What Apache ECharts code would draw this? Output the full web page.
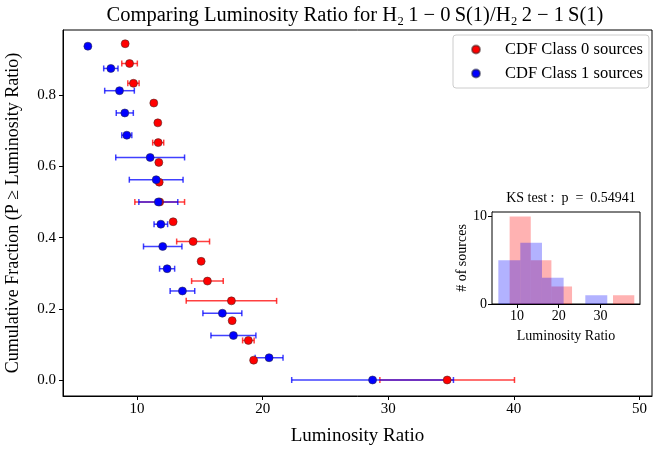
<!DOCTYPE html>
<html><head><meta charset="utf-8">
<script src="https://cdn.jsdelivr.net/npm/echarts@6/dist/echarts.min.js"></script>
<style>html,body{margin:0;padding:0;background:#fff}#c{width:655px;height:449px}</style>
</head><body><div id="c"></div>
<script>
// ---- data ----
const class0Ratio = [9.05, 9.40, 9.71, 11.33, 11.65, 11.68, 11.73, 11.76, 11.80, 12.87, 14.46, 15.10, 15.60, 17.51, 17.57, 18.86, 19.28, 34.69];
const class0Err   = [0.10, 0.62, 0.45, 0.05, 0.05, 0.44, 0.05, 0.05, 1.98, 0.10, 1.31, 0.05, 1.26, 3.60, 0.09, 0.46, 0.10, 5.36];
const class0Frac  = [0.9444, 0.8889, 0.8333, 0.7778, 0.7222, 0.6667, 0.6111, 0.5556, 0.5000, 0.4444, 0.3889, 0.3333, 0.2778, 0.2222, 0.1667, 0.1111, 0.0556, 0.0];

const class1Ratio = [6.08, 7.91, 8.60, 9.02, 9.18, 11.04, 11.52, 11.69, 11.89, 12.04, 12.39, 13.61, 16.79, 17.67, 20.51, 28.75];
const class1Err   = [0.05, 0.57, 1.18, 0.68, 0.40, 2.74, 2.14, 1.55, 0.54, 1.53, 0.60, 0.98, 1.55, 1.79, 1.11, 6.44];
const class1Frac  = [0.9375, 0.875, 0.8125, 0.75, 0.6875, 0.625, 0.5625, 0.5, 0.4375, 0.375, 0.3125, 0.25, 0.1875, 0.125, 0.0625, 0.0];

// inset histogram: bin edges and counts
const class0BinEdges = [8.23, 13.30, 18.25, 23.20, 28.10, 33.02, 38.13];
const class0Counts   = [10, 5, 2, 0, 0, 1];
const class1BinEdges = [5.52, 10.79, 15.99, 21.18, 26.38, 31.65];
const class1Counts   = [5, 7, 3, 0, 1];

const mainXTicks = [10, 20, 30, 40, 50];
const mainYTicks = [0.0, 0.2, 0.4, 0.6, 0.8];
const insetXTicks = [10, 20, 30];
const insetYTicks = [0, 10];

const seriesNames = ['CDF Class 0 sources', 'CDF Class 1 sources'];
const titleText = 'Comparing Luminosity Ratio for H\u2082\u20091 \u2212 0\u2009S(1)/H\u2082\u20092 \u2212 1\u2009S(1)';
const insetTitle = 'KS test :  p  =  0.54941';

// ---- chart ----
const SERIF = '"Liberation Serif", "DejaVu Serif", serif';
const RED = '#ff0000', BLUE = '#0000ff';

function errItem(ratio, err, frac) {
  return ratio.map((v, i) => [v, frac[i], err[i]]);
}
function errRender(color, alpha) {
  return function (params, api) {
    const x = api.value(0), y = api.value(1), e = api.value(2);
    const a = api.coord([x - e, y]), b = api.coord([x + e, y]);
    const cap = 3, st = { stroke: color, lineWidth: 1.5, opacity: alpha };
    return { type: 'group', children: [
      { type: 'line', shape: { x1: a[0], y1: a[1], x2: b[0], y2: b[1] }, style: st },
      { type: 'line', shape: { x1: a[0], y1: a[1] - cap, x2: a[0], y2: a[1] + cap }, style: st },
      { type: 'line', shape: { x1: b[0], y1: b[1] - cap, x2: b[0], y2: b[1] + cap }, style: st }
    ]};
  };
}
function histItems(edges, counts) {
  return counts.map((c, i) => [edges[i], edges[i + 1], c]);
}
function histRender(color) {
  return function (params, api) {
    const p0 = api.coord([api.value(0), api.value(2)]);
    const p1 = api.coord([api.value(1), 0]);
    if (api.value(2) === 0) return null;
    return { type: 'rect', shape: { x: p0[0], y: p0[1], width: p1[0] - p0[0], height: p1[1] - p0[1] },
      style: { fill: color } };
  };
}

const axisCommon = {
  axisLine: { show: true, onZero: false, lineStyle: { color: '#000', width: 1 } },
  splitLine: { show: false },
  axisTick: { show: true, inside: false, length: 4, lineStyle: { color: '#000' } },
  nameTextStyle: { fontFamily: SERIF, color: '#000' }
};

const chart = echarts.init(document.getElementById('c'), null, { renderer: 'canvas' });
chart.setOption({
  animation: false,
  backgroundColor: '#fff',
  title: [
    { text: titleText, left: 350, top: 0, textAlign: 'center',
      textStyle: { fontFamily: SERIF, fontSize: 20.5, fontWeight: 'normal', color: '#000' } },
    { text: insetTitle, left: 566, top: 186, textAlign: 'center',
      textStyle: { fontFamily: SERIF, fontSize: 14, fontWeight: 'normal', color: '#000' } }
  ],
  legend: {
    data: seriesNames, left: 453, top: 35, orient: 'vertical',
    icon: 'circle', itemWidth: 8, itemHeight: 8, itemGap: 7,
    padding: [6, 6, 6, 18],
    borderColor: '#ccc', borderWidth: 1, borderRadius: 3, backgroundColor: 'rgba(255,255,255,0.8)',
    textStyle: { fontFamily: SERIF, fontSize: 16.5, color: '#000', padding: [0, 0, 0, 20] }
  },
  grid: [
    { left: 63, right: 3, top: 30, bottom: 53, show: true, borderColor: '#000', borderWidth: 1,
      outerBoundsMode: 'none', containLabel: false },
    { left: 492, right: 15, top: 212, bottom: 145, show: true, borderColor: '#000', borderWidth: 1,
      backgroundColor: '#fff', z: 10, outerBoundsMode: 'none', containLabel: false }
  ],
  xAxis: [
    Object.assign({}, axisCommon, { type: 'value', gridIndex: 0, min: 4.1, max: 51,
      name: 'Luminosity Ratio', nameLocation: 'middle', nameGap: 31,
      nameTextStyle: { fontFamily: SERIF, fontSize: 19, color: '#000' },
      axisTick: Object.assign({}, axisCommon.axisTick, { customValues: mainXTicks }),
      axisLabel: { customValues: mainXTicks, fontFamily: SERIF, fontSize: 15, color: '#000', margin: 6 } }),
    Object.assign({}, axisCommon, { type: 'value', gridIndex: 1, min: 4.0, max: 39.5,
      name: 'Luminosity Ratio', nameLocation: 'middle', nameGap: 25,
      nameTextStyle: { fontFamily: SERIF, fontSize: 14, color: '#000' },
      axisTick: Object.assign({}, axisCommon.axisTick, { customValues: insetXTicks }),
      axisLabel: { customValues: insetXTicks, fontFamily: SERIF, fontSize: 14, color: '#000', margin: 5 } })
  ],
  yAxis: [
    Object.assign({}, axisCommon, { type: 'value', gridIndex: 0, min: -0.045, max: 0.983,
      name: 'Cumulative Fraction (P \u2265 Luminosity Ratio)', nameLocation: 'middle', nameGap: 41, nameRotate: 90,
      nameTextStyle: { fontFamily: SERIF, fontSize: 18, color: '#000' },
      axisTick: Object.assign({}, axisCommon.axisTick, { customValues: mainYTicks }),
      axisLabel: { customValues: mainYTicks, formatter: v => v.toFixed(1), fontFamily: SERIF, fontSize: 15, color: '#000', margin: 7 } }),
    Object.assign({}, axisCommon, { type: 'value', gridIndex: 1, min: 0, max: 10.5,
      name: '# of sources', nameLocation: 'middle', nameGap: 22, nameRotate: 90,
      nameTextStyle: { fontFamily: SERIF, fontSize: 14, color: '#000' },
      axisTick: Object.assign({}, axisCommon.axisTick, { customValues: insetYTicks }),
      axisLabel: { customValues: insetYTicks, fontFamily: SERIF, fontSize: 14, color: '#000', margin: 5 } })
  ],
  series: [
    { type: 'custom', name: 'class0err', xAxisIndex: 0, yAxisIndex: 0, z: 2,
      renderItem: errRender(RED, 0.75), data: errItem(class0Ratio, class0Err, class0Frac) },
    { type: 'custom', name: 'class1err', xAxisIndex: 0, yAxisIndex: 0, z: 2,
      renderItem: errRender(BLUE, 0.75), data: errItem(class1Ratio, class1Err, class1Frac) },
    { type: 'scatter', name: seriesNames[0], xAxisIndex: 0, yAxisIndex: 0, z: 3, symbolSize: 8,
      itemStyle: { color: RED, borderColor: 'rgba(70,40,40,0.55)', borderWidth: 1, opacity: 1 },
      data: class0Ratio.map((v, i) => [v, class0Frac[i]]) },
    { type: 'scatter', name: seriesNames[1], xAxisIndex: 0, yAxisIndex: 0, z: 3, symbolSize: 8,
      itemStyle: { color: BLUE, borderColor: 'rgba(40,40,70,0.55)', borderWidth: 1, opacity: 1 },
      data: class1Ratio.map((v, i) => [v, class1Frac[i]]) },
    { type: 'custom', name: 'hist0', xAxisIndex: 1, yAxisIndex: 1, z: 11, clip: true,
      renderItem: histRender('rgba(255,0,0,0.3)'), data: histItems(class0BinEdges, class0Counts) },
    { type: 'custom', name: 'hist1', xAxisIndex: 1, yAxisIndex: 1, z: 11, clip: true,
      renderItem: histRender('rgba(0,0,255,0.3)'), data: histItems(class1BinEdges, class1Counts) }
  ]
});
</script>
</body></html>
